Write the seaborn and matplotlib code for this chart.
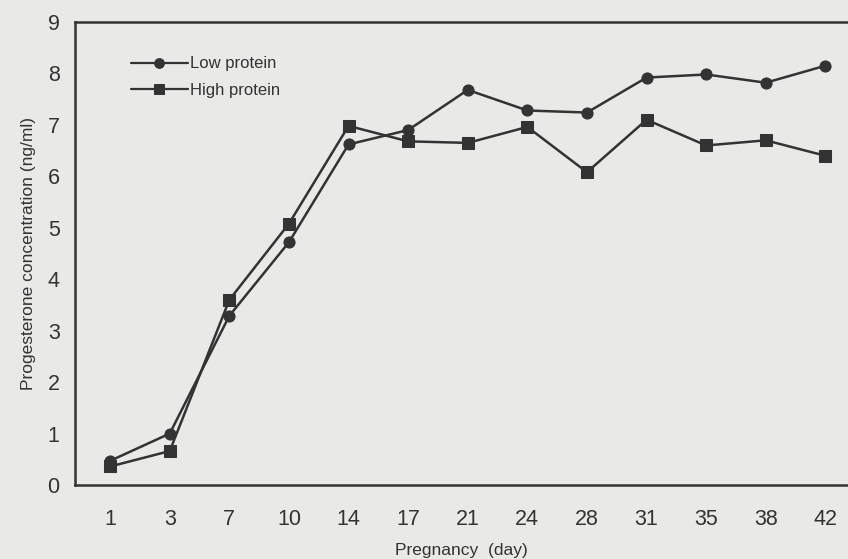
import matplotlib
matplotlib.use("Agg")
import matplotlib.pyplot as plt
import seaborn as sns
import pandas as pd
from matplotlib.ticker import FixedLocator

days = ["1", "3", "7", "10", "14", "17", "21", "24", "28", "31", "35", "38", "42"]
low_protein = [0.47, 1.00, 3.29, 4.72, 6.62, 6.90, 7.68, 7.28, 7.24, 7.92, 7.98, 7.82, 8.15]
high_protein = [0.36, 0.66, 3.60, 5.08, 6.98, 6.68, 6.65, 6.96, 6.08, 7.10, 6.60, 6.70, 6.40]
series_names = ["Low protein", "High protein"]
y_ticks = [0, 1, 2, 3, 4, 5, 6, 7, 8, 9]

df = pd.DataFrame({
    "day": days * 2,
    "value": low_protein + high_protein,
    "group": [series_names[0]] * len(days) + [series_names[1]] * len(days),
})

sns.set_style("white")
plt.rcParams["font.family"] = ["Liberation Sans", "DejaVu Sans"]

bg = "#e9e9e7"
ink = "#333333"
fig = plt.figure(figsize=(8.48, 5.59), dpi=100, facecolor=bg)
ax = fig.add_axes([75 / 848, 74 / 559, 773 / 848, 463 / 559], facecolor=bg)

sns.lineplot(data=df, x="day", y="value", hue="group", style="group",
             palette={series_names[0]: ink, series_names[1]: ink},
             markers={series_names[0]: "o", series_names[1]: "s"},
             dashes=False, markersize=8, linewidth=1.8,
             markeredgecolor=ink, ax=ax, sort=False)

ax.set_xlim(-0.59, 12.38)
ax.set_ylim(0, 9)
ax.set_yticks(y_ticks)
ax.set_xticks(range(len(days)))
ax.set_xticklabels(days)
ax.xaxis.set_minor_locator(FixedLocator([i + 0.5 for i in range(len(days) - 1)]))
ax.tick_params(axis="x", which="major", length=0, pad=17, labelsize=15.5, colors=ink)
ax.tick_params(axis="x", which="minor", length=6, width=1.5, direction="out", color=ink)
ax.tick_params(axis="y", which="major", length=7, width=1.5, direction="out", pad=4,
               labelsize=15.5, colors=ink)

for s in ["left", "bottom", "top"]:
    ax.spines[s].set_visible(True)
    ax.spines[s].set_color(ink)
    ax.spines[s].set_linewidth(1.8)
ax.spines["right"].set_visible(False)

ax.set_xlabel("Pregnancy  (day)", fontsize=12.5, color=ink, labelpad=10)
ax.set_ylabel("Progesterone concentration (ng/ml)", fontsize=12.5, color=ink, labelpad=8)

leg = ax.legend(loc="upper left", bbox_to_anchor=(0.064, 0.94), frameon=False,
                fontsize=12, handlelength=3.4, handletextpad=0.15, labelspacing=0.7,
                borderaxespad=0)
for t in leg.get_texts():
    t.set_color(ink)
for h in leg.get_lines():
    h.set_markersize(7)
    h.set_linewidth(1.6)

fig.savefig("out.png", dpi=100, facecolor=bg)
